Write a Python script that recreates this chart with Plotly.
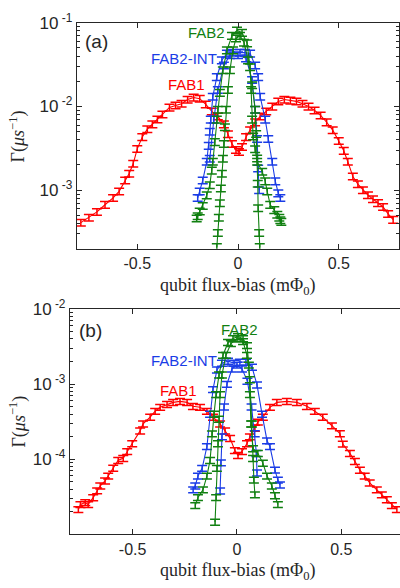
import plotly.graph_objects as go

# ---------------- panel (a) ----------------
a_fab1_x = [-0.78, -0.74, -0.70, -0.66, -0.62, -0.59, -0.56, -0.54, -0.52, -0.50, -0.475, -0.45, -0.425,
            -0.40, -0.375, -0.34, -0.31, -0.28, -0.25, -0.22, -0.19, -0.16, -0.13, -0.10, -0.07, -0.05,
            -0.03, -0.01, 0.005, 0.02, 0.04, 0.06, 0.085, 0.11, 0.14, 0.17, 0.20, 0.23, 0.26, 0.29, 0.32,
            0.35, 0.38, 0.41, 0.44, 0.47, 0.50, 0.525, 0.545, 0.57, 0.595, 0.62, 0.645, 0.67, 0.695, 0.72,
            0.745, 0.77]
a_fab1_y = [4.1e-4, 4.7e-4, 5.5e-4, 6.7e-4, 8.1e-4, 9.7e-4, 1.31e-3, 1.58e-3, 2.08e-3, 3.12e-3, 4.32e-3,
            5.36e-3, 6.14e-3, 7.03e-3, 8.05e-3, 9.73e-3, 1.03e-2, 1.08e-2, 1.21e-2, 1.28e-2, 1.24e-2,
            1.06e-2, 8.73e-3, 7.62e-3, 6.14e-3, 4.69e-3, 3.57e-3, 3.03e-3, 2.87e-3, 3.29e-3, 4.32e-3,
            5.22e-3, 6.48e-3, 7.62e-3, 8.73e-3, 1.0e-2, 1.15e-2, 1.21e-2, 1.18e-2, 1.15e-2, 1.08e-2,
            1.0e-2, 8.98e-3, 7.83e-3, 6.48e-3, 5.22e-3, 3.88e-3, 2.96e-3, 2.19e-3, 1.46e-3, 1.18e-3,
            1.0e-3, 8.73e-4, 7.83e-4, 7.03e-4, 6.31e-4, 5.22e-4, 4.44e-4]

a_int_x = [-0.20, -0.19, -0.175, -0.155, -0.145, -0.14, -0.135, -0.125, -0.105, -0.08, -0.055, -0.025,
           0.01, 0.035, 0.06, 0.085, 0.10, 0.11, 0.135, 0.15, 0.17, 0.185, 0.20, 0.21]
a_int_y = [8.1e-4, 9.7e-4, 1.31e-3, 2.19e-3, 3.4e-3, 5.0e-3, 7.0e-3, 1.31e-2, 2.25e-2, 3.57e-2, 4.3e-2,
           4.4e-2, 4.4e-2, 4.4e-2, 4.3e-2, 3.1e-2, 2.25e-2, 1.31e-2, 7.0e-3, 4.1e-3, 2.19e-3, 1.28e-3,
           9.2e-4, 8.1e-4]
a_int2_x = [-0.14, -0.12, -0.10, -0.07, -0.04, 0.0, 0.04, 0.07, 0.085, 0.095, 0.10, 0.105]
a_int2_y = [2.38e-3, 7.0e-3, 1.58e-2, 3.1e-2, 4.1e-2, 4.1e-2, 3.77e-2, 2.08e-2, 9.2e-3, 4.1e-3, 1.82e-3, 1.0e-3]

a_fab2_x = [-0.205, -0.20, -0.19, -0.175, -0.155, -0.14, -0.13, -0.125, -0.115, -0.105, -0.10, -0.09,
            -0.075, -0.055, -0.03, -0.005, 0.02, 0.045, 0.06, 0.065, 0.07, 0.075, 0.085, 0.095, 0.12,
            0.135, 0.145, 0.16, 0.18, 0.195, 0.205, 0.21, 0.215]
a_fab2_y = [4.6e-4, 4.9e-4, 5.6e-4, 6.5e-4, 8.7e-4, 1.15e-3, 1.72e-3, 2.19e-3, 3.77e-3, 7.0e-3, 9.2e-3,
            1.46e-2, 2.72e-2, 4.7e-2, 7.0e-2, 8.1e-2, 7.6e-2, 5.7e-2, 2.96e-2, 1.58e-2, 7.0e-3, 4.4e-3,
            3.1e-3, 2.19e-3, 1.67e-3, 1.28e-3, 9.7e-4, 6.7e-4, 5.8e-4, 5.1e-4, 4.7e-4, 4.4e-4, 4.2e-4]
a_fab2n_x = [-0.105, -0.10, -0.095, -0.09, -0.085, -0.08, -0.075, -0.07, -0.065, -0.06, -0.05, -0.04,
             -0.025, -0.01, 0.01, 0.03, 0.05, 0.07, 0.085, 0.09, 0.095, 0.098, 0.10, 0.105, 0.108]
a_fab2n_y = [2.1e-4, 3.1e-4, 4.7e-4, 7.0e-4, 1.05e-3, 1.58e-3, 2.38e-3, 3.57e-3, 5.66e-3, 9.2e-3, 1.58e-2,
             2.72e-2, 4.7e-2, 6.5e-2, 7.0e-2, 5.8e-2, 3.57e-2, 1.8e-2, 9.2e-3, 4.7e-3, 2.4e-3, 1.2e-3,
             6.1e-4, 3.1e-4, 2.1e-4]

# ---------------- panel (b) ----------------
b_fab1_x = [-0.76, -0.75, -0.727, -0.713, -0.689, -0.67, -0.655, -0.632, -0.617, -0.593, -0.569, -0.545,
            -0.526, -0.502, -0.464, -0.45, -0.416, -0.392, -0.368, -0.335, -0.306, -0.273, -0.239, -0.211,
            -0.177, -0.144, -0.115, -0.081, -0.057, -0.033, -0.01, 0.005, 0.024, 0.048, 0.062, 0.086,
            0.10, 0.124, 0.158, 0.191, 0.239, 0.287, 0.335, 0.373, 0.411, 0.455, 0.493, 0.507, 0.541,
            0.565, 0.589, 0.612, 0.636, 0.67, 0.694, 0.718, 0.742, 0.766]
b_fab1_y = [2.15e-5, 2.5e-5, 2.66e-5, 2.5e-5, 3.09e-5, 3.82e-5, 4.44e-5, 5.16e-5, 6.0e-5, 7.63e-5, 9.7e-5,
            1.03e-4, 1.27e-4, 1.62e-4, 2.39e-4, 2.96e-4, 3.65e-4, 4.37e-4, 4.93e-4, 5.4e-4, 5.73e-4,
            5.9e-4, 5.73e-4, 5.08e-4, 4.93e-4, 4.37e-4, 3.65e-4, 2.96e-4, 2.39e-4, 1.9e-4, 1.31e-4,
            1.13e-4, 1.27e-4, 1.62e-4, 2.0e-4, 2.6e-4, 3.14e-4, 3.65e-4, 4.93e-4, 5.73e-4, 5.9e-4,
            5.73e-4, 5.08e-4, 4.37e-4, 3.65e-4, 2.8e-4, 2.2e-4, 1.6e-4, 1.2e-4, 9.4e-5, 7.18e-5, 6.0e-5,
            4.85e-5, 3.93e-5, 3.38e-5, 2.91e-5, 2.43e-5, 2.15e-5]

b_int_x = [-0.21, -0.20, -0.187, -0.167, -0.144, -0.129, -0.115, -0.096, -0.072, -0.043, -0.014, 0.014,
           0.043, 0.072, 0.096, 0.12, 0.144, 0.158, 0.182, 0.196, 0.206]
b_int_y = [3.93e-5, 4.44e-5, 6.0e-5, 7.6e-5, 1.48e-4, 4.0e-4, 8.5e-4, 1.55e-3, 1.91e-3, 2.03e-3, 1.91e-3,
           1.97e-3, 1.97e-3, 1.69e-3, 9.8e-4, 4.0e-4, 1.77e-4, 1.48e-4, 7.2e-5, 5.3e-5, 4.57e-5]
b_int2_x = [-0.081, -0.077, -0.072, -0.062, -0.048, -0.024, 0.0, 0.024, 0.05, 0.07, 0.085, 0.093, 0.096]
b_int2_y = [3.8e-5, 9e-5, 2.0e-4, 5e-4, 1.0e-3, 1.6e-3, 1.8e-3, 1.6e-3, 1.1e-3, 5e-4, 2.2e-4, 1.2e-4, 6.6e-5]

b_fab2_x = [-0.20, -0.187, -0.163, -0.144, -0.129, -0.12, -0.11, -0.10, -0.086, -0.067, -0.043, -0.019,
            0.005, 0.029, 0.048, 0.057, 0.062, 0.067, 0.077, 0.10, 0.124, 0.144, 0.167, 0.182, 0.196]
b_fab2_y = [2.43e-5, 3.1e-5, 3.93e-5, 6.0e-5, 9.7e-5, 2.19e-4, 4.0e-4, 7.3e-4, 1.33e-3, 2.43e-3, 3.6e-3,
            4.05e-3, 4.3e-3, 4.05e-3, 3.28e-3, 1.8e-3, 7.3e-4, 2.96e-4, 1.39e-4, 1.2e-4, 8.9e-5, 6.0e-5,
            4.44e-5, 3.28e-5, 2.5e-5]
b_fab2n_x = [-0.105, -0.10, -0.096, -0.091, -0.086, -0.081, -0.072, -0.053, -0.029, 0.0, 0.029, 0.048,
             0.062, 0.072, 0.077, 0.081, 0.086]
b_fab2n_y = [1.46e-5, 3.1e-5, 7.6e-5, 1.62e-4, 3.43e-4, 7.3e-4, 1.33e-3, 2.43e-3, 3.48e-3, 4.05e-3, 3.7e-3,
             2.43e-3, 1.15e-3, 2.96e-4, 1.03e-4, 5.3e-5, 3.38e-5]

x_ticks = [-0.5, 0, 0.5]
x_tick_text = ["-0.5", "0", "0.5"]
a_decades = [1e-3, 1e-2, 1e-1]
a_decade_text = ["10<sup> -3</sup>", "10<sup> -2</sup>", "10<sup> -1</sup>"]
b_decades = [1e-4, 1e-3, 1e-2]
b_decade_text = ["10<sup> -4</sup>", "10<sup> -3</sup>", "10<sup> -2</sup>"]

RED = "#ff0000"
BLUE = "#1a3ce6"
GREEN = "#118011"
AXIS = "#262626"
SANS = "Liberation Sans, Arial, sans-serif"
SERIF = "Liberation Serif, Times New Roman, serif"


def minor_log_ticks(lo_exp, hi_exp):
    vals = []
    for e in range(lo_exp, hi_exp):
        for m in range(2, 10):
            vals.append(m * 10.0 ** e)
    return vals


fig = go.Figure()


def add_series(x, y, color, xa, ya):
    fig.add_trace(go.Scatter(
        x=x, y=y, mode="lines", xaxis=xa, yaxis=ya, showlegend=False,
        line=dict(color=color, width=1.1),
        error_y=dict(type="percent", value=9, color=color, thickness=1.5, width=5),
    ))


# panel (a): FAB1, FAB2-INT, FAB2
add_series(a_fab1_x, a_fab1_y, RED, "x", "y")
add_series(a_int_x, a_int_y, BLUE, "x", "y")
add_series(a_int2_x, a_int2_y, BLUE, "x", "y")
add_series(a_fab2_x, a_fab2_y, GREEN, "x", "y")
add_series(a_fab2n_x, a_fab2n_y, GREEN, "x", "y")
# panel (b)
add_series(b_fab1_x, b_fab1_y, RED, "x2", "y2")
add_series(b_int_x, b_int_y, BLUE, "x2", "y2")
add_series(b_int2_x, b_int2_y, BLUE, "x2", "y2")
add_series(b_fab2_x, b_fab2_y, GREEN, "x2", "y2")
add_series(b_fab2n_x, b_fab2n_y, GREEN, "x2", "y2")

common_x = dict(
    tickvals=x_ticks, ticktext=x_tick_text, ticks="inside", ticklen=5, tickwidth=1,
    tickcolor=AXIS, showline=True, linecolor=AXIS, linewidth=1.2, showgrid=False,
    zeroline=False, tickfont=dict(family=SANS, size=16, color=AXIS), ticklabelstandoff=0,
)
common_y = dict(
    type="log", ticks="inside", ticklen=5, tickwidth=1, tickcolor=AXIS,
    showline=True, linecolor=AXIS, linewidth=1.2, showgrid=False, zeroline=False,
    tickfont=dict(family=SANS, size=17, color=AXIS), ticklabelstandoff=0,
)

fig.update_layout(
    width=400, height=588, margin=dict(l=0, r=0, t=0, b=0),
    paper_bgcolor="white", plot_bgcolor="white",
    xaxis=dict(domain=[0.192, 0.998], range=[-0.8, 0.8], anchor="y", mirror="ticks", **common_x),
    yaxis=dict(domain=[0.5889, 0.9813], range=[-3.70, -1], anchor="x", mirror="ticks",
               tickvals=a_decades, ticktext=a_decade_text,
               minor=dict(tickmode="array", tickvals=minor_log_ticks(-4, -1), ticks="inside",
                          ticklen=3, tickwidth=1, tickcolor=AXIS, showgrid=False),
               **common_y),
    xaxis2=dict(domain=[0.175, 1.0], range=[-0.8, 0.781], anchor="y2", mirror="ticks", **common_x),
    yaxis2=dict(domain=[0.0930, 0.4842], range=[-5.0, -2], anchor="x2", mirror=False,
                tickvals=b_decades, ticktext=b_decade_text,
                minor=dict(tickmode="array", tickvals=minor_log_ticks(-5, -2), ticks="inside",
                           ticklen=3, tickwidth=1, tickcolor=AXIS, showgrid=False),
                **common_y),
)

annotations = [
    # panel labels and series names
    dict(x=0.24, y=0.949, text="(a)", font=dict(family=SANS, size=19, color=AXIS)),
    dict(x=0.515, y=0.9643, text="FAB2", font=dict(family=SANS, size=15, color=GREEN)),
    dict(x=0.459, y=0.920, text="FAB2-INT", font=dict(family=SANS, size=15, color=BLUE)),
    dict(x=0.466, y=0.874, text="FAB1", font=dict(family=SANS, size=15, color=RED)),
    dict(x=0.225, y=0.447, text="(b)", font=dict(family=SANS, size=19, color=AXIS)),
    dict(x=0.5975, y=0.449, text="FAB2", font=dict(family=SANS, size=15, color=GREEN)),
    dict(x=0.459, y=0.395, text="FAB2-INT", font=dict(family=SANS, size=15, color=BLUE)),
    dict(x=0.445, y=0.3435, text="FAB1", font=dict(family=SANS, size=15, color=RED)),
    # axis titles
    dict(x=0.594, y=0.5238, text="qubit flux-bias (m\u03a6<sub>0</sub>)",
         font=dict(family=SERIF, size=18, color=AXIS)),
    dict(x=0.5925, y=0.0289, text="qubit flux-bias (m\u03a6<sub>0</sub>)",
         font=dict(family=SERIF, size=18, color=AXIS)),
    dict(x=0.045, y=0.784, text="\u0393(<i>\u03bcs</i><sup>\u22121</sup>)", textangle=-90,
         font=dict(family=SERIF, size=18, color=AXIS)),
    dict(x=0.045, y=0.289, text="\u0393(<i>\u03bcs</i><sup>\u22121</sup>)", textangle=-90,
         font=dict(family=SERIF, size=18, color=AXIS)),
]
for ann in annotations:
    ann.update(xref="paper", yref="paper", showarrow=False, xanchor="center", yanchor="middle")
fig.update_layout(annotations=annotations)

fig.write_html("out.html")
